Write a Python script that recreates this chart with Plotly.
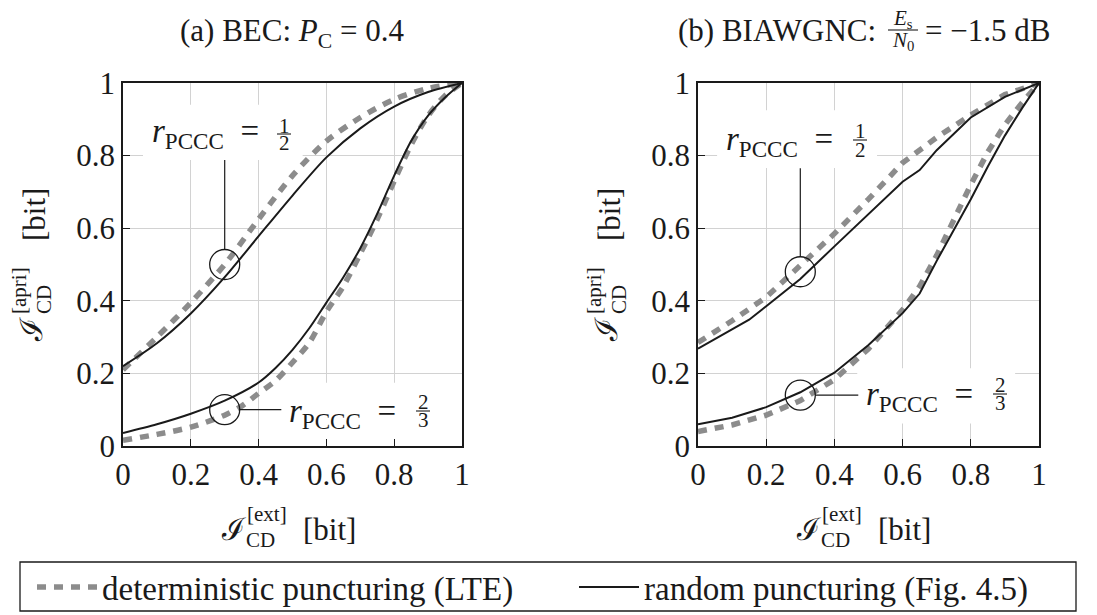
import plotly.graph_objects as go

W, H = 1097, 615
FONT = "Liberation Serif, DejaVu Serif, serif"
INK = "#1a1a1a"
GRAY = "#8c8c8c"
NB = "\u00a0"

# ---------------- data ----------------
# (a) BEC, P_C = 0.4
bec_r12_x = [0.0, 0.1, 0.2, 0.3, 0.4, 0.5, 0.6, 0.7, 0.8, 0.9, 1.0]
bec_r12_rand = [0.22, 0.283, 0.365, 0.465, 0.578, 0.69, 0.795, 0.875, 0.935, 0.975, 1.0]
bec_r12_det = [0.21, 0.30, 0.395, 0.50, 0.625, 0.745, 0.84, 0.905, 0.955, 0.985, 1.0]

bec_r23_x_rand = [0.0, 0.1, 0.2, 0.3, 0.4, 0.45, 0.5, 0.55, 0.6, 0.65, 0.7, 0.75, 0.8, 0.85, 0.9, 0.95, 1.0]
bec_r23_rand = [0.036, 0.06, 0.089, 0.125, 0.175, 0.215, 0.265, 0.325, 0.395, 0.465, 0.545, 0.64, 0.745, 0.84, 0.91, 0.96, 1.0]
bec_r23_x_det = [0.0, 0.1, 0.2, 0.3, 0.35, 0.4, 0.45, 0.5, 0.55, 0.6, 0.65, 0.7, 0.75, 0.8, 0.85, 0.9, 0.95, 1.0]
bec_r23_det = [0.016, 0.032, 0.052, 0.085, 0.11, 0.145, 0.18, 0.23, 0.285, 0.37, 0.44, 0.53, 0.625, 0.73, 0.83, 0.91, 0.965, 1.0]

# (b) BIAWGNC, Es/N0 = -1.5 dB
awgn_r12_x_rand = [0.0, 0.1, 0.15, 0.2, 0.3, 0.4, 0.5, 0.6, 0.65, 0.7, 0.8, 0.9, 1.0]
awgn_r12_rand = [0.268, 0.32, 0.348, 0.385, 0.46, 0.55, 0.64, 0.728, 0.76, 0.815, 0.905, 0.962, 1.0]
awgn_r12_x_det = [0.0, 0.1, 0.2, 0.3, 0.4, 0.5, 0.6, 0.7, 0.8, 0.9, 1.0]
awgn_r12_det = [0.285, 0.345, 0.41, 0.495, 0.585, 0.68, 0.78, 0.85, 0.912, 0.968, 1.0]

awgn_r23_x = [0.0, 0.1, 0.2, 0.3, 0.4, 0.5, 0.6, 0.65, 0.7, 0.75, 0.8, 0.85, 0.9, 0.95, 1.0]
awgn_r23_rand = [0.06, 0.078, 0.107, 0.148, 0.202, 0.278, 0.366, 0.42, 0.51, 0.595, 0.68, 0.77, 0.855, 0.93, 1.0]
awgn_r23_det = [0.04, 0.058, 0.085, 0.125, 0.183, 0.268, 0.375, 0.44, 0.525, 0.625, 0.72, 0.81, 0.885, 0.945, 1.0]

tick_vals = [0, 0.2, 0.4, 0.6, 0.8, 1]
tick_text = ["0", "0.2", "0.4", "0.6", "0.8", "1"]

legend_det = "deterministic puncturing (LTE)"
legend_rand = "random puncturing (Fig. 4.5)"

# ---------------- figure ----------------
fig = go.Figure()

def add_panel(xa, ya, det, rand, show, shape):
    for i, (x, y) in enumerate(det):
        fig.add_trace(go.Scatter(x=x, y=y, mode="lines", name=legend_det,
                                 line=dict(color=GRAY, width=5.5, dash="9px,8px", shape=shape, smoothing=0.8),
                                 legendgroup="det", showlegend=(show and i == 0),
                                 xaxis=xa, yaxis=ya, hoverinfo="skip"))
    for i, (x, y) in enumerate(rand):
        fig.add_trace(go.Scatter(x=x, y=y, mode="lines", name=legend_rand,
                                 line=dict(color=INK, width=2, shape=shape, smoothing=0.8),
                                 legendgroup="rand", showlegend=(show and i == 0),
                                 xaxis=xa, yaxis=ya, hoverinfo="skip"))

add_panel("x", "y",
          [(bec_r12_x, bec_r12_det), (bec_r23_x_det, bec_r23_det)],
          [(bec_r12_x, bec_r12_rand), (bec_r23_x_rand, bec_r23_rand)], True, "spline")
add_panel("x2", "y2",
          [(awgn_r12_x_det, awgn_r12_det), (awgn_r23_x, awgn_r23_det)],
          [(awgn_r12_x_rand, awgn_r12_rand), (awgn_r23_x, awgn_r23_rand)], False, "linear")

axis_common = dict(range=[0, 1], tickmode="array", tickvals=tick_vals, ticktext=tick_text,
                   showgrid=True, gridcolor="#d2d2d2", gridwidth=1, zeroline=False,
                   showline=True, linecolor=INK, linewidth=1.6, mirror=True,
                   ticks="inside", ticklen=7, tickwidth=1.2, tickcolor=INK,
                   tickfont=dict(family=FONT, size=31, color=INK), fixedrange=True)

def px(x):
    return x / W

def py(y):
    return 1 - y / H

ydom = [py(446), py(83)]
fig.update_layout(
    width=W, height=H, margin=dict(l=0, r=0, t=0, b=0, autoexpand=False),
    paper_bgcolor="white", plot_bgcolor="white",
    xaxis=dict(domain=[px(123), px(462)], anchor="y", **axis_common),
    yaxis=dict(domain=ydom, anchor="x", **axis_common),
    xaxis2=dict(domain=[px(698), px(1039)], anchor="y2", **axis_common),
    yaxis2=dict(domain=ydom, anchor="x2", **axis_common),
    showlegend=True,
    legend=dict(orientation="h", x=px(32), xanchor="left", y=py(587), yanchor="middle",
                font=dict(family=FONT, size=33, color=INK), bgcolor="rgba(0,0,0,0)",
                borderwidth=0, itemwidth=60, entrywidth=467, entrywidthmode="pixels"),
)

ann = []
shapes = []

def text(x, y, s, size=31, xanchor="center", yanchor="middle", angle=0):
    ann.append(dict(x=px(x), y=py(y), xref="paper", yref="paper", text=s, showarrow=False,
                    xanchor=xanchor, yanchor=yanchor, textangle=angle,
                    font=dict(family=FONT, size=size, color=INK)))

def hline_paper(x0, x1, y, w=1.2):
    shapes.append(dict(type="line", xref="paper", yref="paper", x0=px(x0), x1=px(x1),
                       y0=py(y), y1=py(y), line=dict(color=INK, width=w)))

def frac(cx, ynum, yden, ybar, hw, num, den, size=21):
    text(cx, ynum, num, size=size)
    text(cx, yden, den, size=size)
    hline_paper(cx - hw, cx + hw, ybar, w=1.1)

# titles
text(292, 33, "(a) BEC: <i>P</i><sub>C</sub> = 0.4")
text(878, 30, "(b) BIAWGNC:", xanchor="right")
frac(903, 19, 41, 30, 15, "<i>E</i><sub>s</sub>", "<i>N</i><sub>0</sub>", size=21)
text(923, 30, "= −1.5 dB", xanchor="left")

# axis titles
for dx in (0, 575):
    # x title
    text(233 + dx, 529, "ℐ")
    text(267 + dx, 514, "[ext]", size=21)
    text(260 + dx, 540, "CD", size=21)
    text(329 + dx, 529, "[bit]")
    # y title (rotated)
    text(31 + dx, 330, "ℐ", angle=-90)
    text(19 + dx, 291, "[apri]", size=21, angle=-90)
    text(44 + dx, 300, "CD", size=21, angle=-90)
    text(34 + dx, 215, "[bit]", angle=-90)

# rate labels (white boxes hide grid only), circles and connectors
def data_shape(xa, ya, **kw):
    d = dict(xref=xa, yref=ya)
    d.update(kw)
    shapes.append(d)

def rate_label(xa, ya, box, circ, conn, lab_px, frac_px, num, den):
    data_shape(xa, ya, type="rect", x0=box[0], x1=box[1], y0=box[2], y1=box[3],
               fillcolor="white", line=dict(width=0), layer="between")
    data_shape(xa, ya, type="circle", xsizemode="pixel", ysizemode="pixel",
               xanchor=circ[0], yanchor=circ[1], x0=-15, x1=15, y0=-15, y1=15,
               line=dict(color=INK, width=1.3), layer="above")
    data_shape(xa, ya, type="line", x0=conn[0], x1=conn[1], y0=conn[2], y1=conn[3],
               line=dict(color=INK, width=1.2), layer="above")
    text(lab_px[0], lab_px[1], "<i>r</i><sub>PCCC</sub>" + NB + NB + "=", size=33, xanchor="left")
    frac(frac_px[0], frac_px[1], frac_px[2], frac_px[3], 7, num, den)

rate_label("x", "y", (0.059, 0.53, 0.788, 0.94), (0.3, 0.5), (0.3, 0.3, 0.541, 0.788),
           (150, 133), (284, 126, 143, 134), "1", "2")
rate_label("x", "y", (0.467, 0.935, 0.017, 0.174), (0.3, 0.1), (0.344, 0.467, 0.1, 0.1),
           (287, 413), (423, 402, 420, 411), "2", "3")
rate_label("x2", "y2", (0.056, 0.525, 0.766, 0.925), (0.3, 0.48), (0.3, 0.3, 0.521, 0.765),
           (724, 141), (860, 131, 150, 140), "1", "2")
rate_label("x2", "y2", (0.467, 0.93, 0.062, 0.214), (0.3, 0.14), (0.344, 0.47, 0.14, 0.14),
           (864, 396), (1000, 385, 403, 394), "2", "3")

# legend frame
shapes.append(dict(type="rect", xref="paper", yref="paper", x0=px(20), x1=px(1076),
                   y0=py(611), y1=py(562), line=dict(color=INK, width=1.3),
                   fillcolor="rgba(0,0,0,0)"))

fig.update_layout(annotations=ann, shapes=shapes)
fig.write_html("out.html")
